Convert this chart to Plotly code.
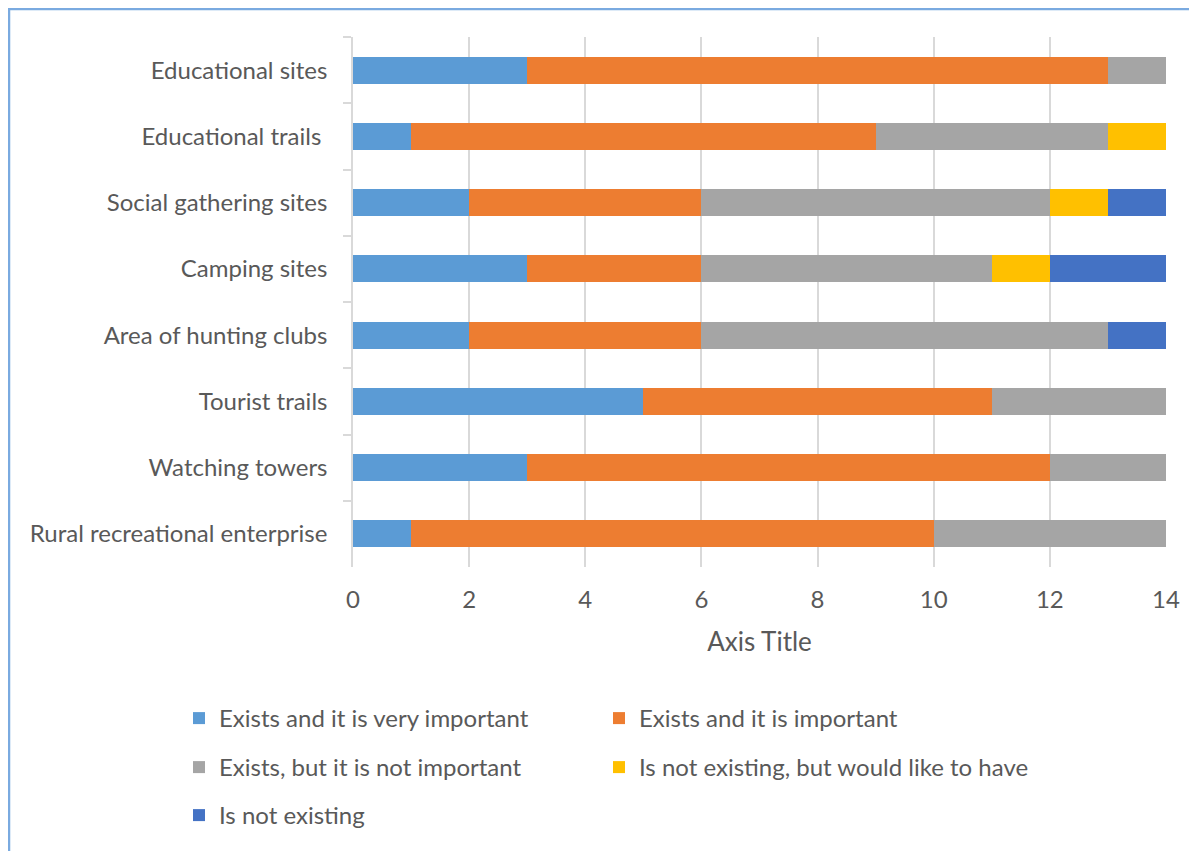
import plotly.graph_objects as go

# Data (top to bottom as shown)
categories = [
  "Educational sites",
  "Educational trails ",
  "Social gathering sites",
  "Camping sites",
  "Area of hunting clubs",
  "Tourist trails",
  "Watching towers",
  "Rural recreational enterprise",
]
very_important = [3, 1, 2, 3, 2, 5, 3, 1]
important = [10, 8, 4, 3, 4, 6, 9, 9]
not_important = [1, 4, 6, 5, 7, 3, 2, 4]
would_like = [0, 1, 1, 1, 0, 0, 0, 0]
not_existing = [0, 0, 1, 2, 1, 0, 0, 0]

series_names = [
  "Exists and it is very important",
  "Exists and it is important",
  "Exists, but it is not important",
  "Is not existing, but would like to have",
  "Is not existing",
]
series_values = [very_important, important, not_important, would_like, not_existing]
x_ticks = [0, 2, 4, 6, 8, 10, 12, 14]

COLORS = ["#5B9BD5", "#ED7D31", "#A5A5A5", "#FFC000", "#4472C4"]
TEXT = "#595959"
GRID = "#D9D9D9"
FONT = "Lato, Open Sans, sans-serif"

# page has an 8px body margin, so the figure is drawn 8px smaller
W, H = 1189, 843
L, R, T, B = 345, 31, 29, 284

pw = W - L - R
ph = H - T - B

# legend grid: 2 columns, 3 rows (pixel positions in the figure)
LEG_X = [171, 591]
LEG_Y = [688, 737, 785]


def leg(px, py):
  return dict(
    orientation="h",
    x=(px - L) / pw,
    xanchor="left",
    y=1 - (py - T) / ph,
    yanchor="top",
    font=dict(size=24, color=TEXT, family=FONT),
    bgcolor="rgba(0,0,0,0)",
  )


fig = go.Figure()
legends = {}
for i, (name, vals, col) in enumerate(zip(series_names, series_values, COLORS)):
  key = "legend" if i == 0 else f"legend{i + 1}"
  legends[key] = leg(LEG_X[i % 2], LEG_Y[i // 2])
  fig.add_trace(
    go.Bar(
      y=categories,
      x=vals,
      name=name,
      orientation="h",
      marker=dict(color=col, line=dict(width=0)),
      legend=key,
      showlegend=True,
    )
  )

fig.update_layout(
  width=W,
  height=H,
  showlegend=True,
  barmode="stack",
  bargap=0.59,
  margin=dict(l=L, r=R, t=T, b=B, autoexpand=False),
  plot_bgcolor="white",
  paper_bgcolor="white",
  font=dict(family=FONT, size=24, color=TEXT),
  xaxis=dict(
    range=[0, 14],
    tickvals=x_ticks,
    showgrid=True,
    gridcolor=GRID,
    gridwidth=1.5,
    zeroline=False,
    showline=False,
    ticks="",
    ticklabelstandoff=16,
    tickfont=dict(size=24, color=TEXT),
    title=dict(text="Axis Title", font=dict(size=26, color=TEXT), standoff=20),
  ),
  yaxis=dict(
    autorange="reversed",
    showgrid=False,
    zeroline=False,
    showline=True,
    linecolor=GRID,
    linewidth=1.5,
    ticks="outside",
    tickson="boundaries",
    ticklen=8,
    tickcolor=GRID,
    tickwidth=1.5,
    ticklabelstandoff=19,
    tickfont=dict(size=24, color=TEXT),
  ),
  **legends,
)

# chart frame
fig.add_shape(
  type="rect",
  xref="paper",
  yref="paper",
  x0=(1 - L) / pw,
  x1=(W + 10 - L) / pw,
  y0=1 - (H + 10 - T) / ph,
  y1=1 - (1 - T) / ph,
  line=dict(color="#7AAAE0", width=2.5),
  layer="below",
)

fig.write_html("out.html")
